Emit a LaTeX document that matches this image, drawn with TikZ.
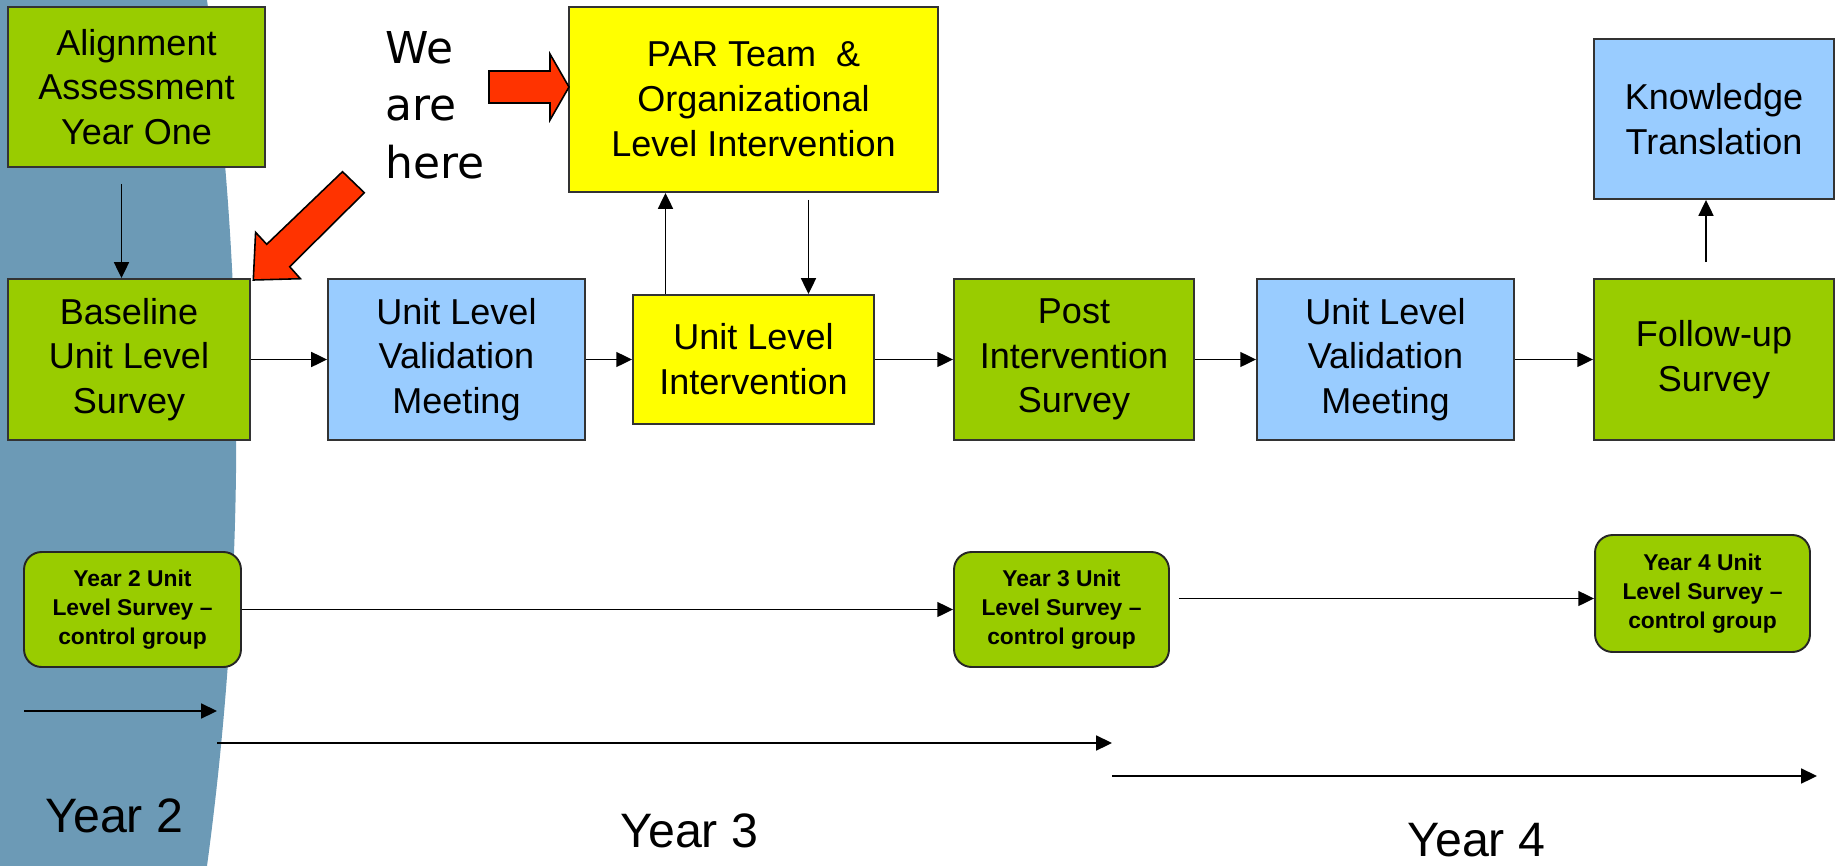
\documentclass[tikz,border=0pt]{standalone}
\usepackage{fontspec}
\setmainfont{Liberation Sans}
\newfontfamily\handfont{DejaVu Sans}
\usetikzlibrary{arrows.meta,calc}

\definecolor{leaf}{RGB}{153,204,0}
\definecolor{lemon}{RGB}{255,255,0}
\definecolor{sky}{RGB}{153,204,255}
\definecolor{flame}{RGB}{255,51,0}
\definecolor{slate}{RGB}{108,154,182}

\begin{document}
\begin{tikzpicture}[x=0.02cm,y=-0.02cm,
  box/.style={draw=black!80,line width=1.1pt,align=center,inner sep=0pt,
    font=\fontsize{20.5}{25.5}\selectfont},
  survey/.style={box,fill=leaf},
  meeting/.style={box,fill=sky},
  action/.style={box,fill=lemon},
  control/.style={draw=black!85,line width=1.1pt,fill=leaf,rounded corners=10pt,
    align=center,inner sep=0pt,font=\fontsize{13}{16.4}\selectfont\bfseries},
  arr/.style={-{Triangle[length=9pt,width=8.5pt]},line width=1pt},
  pointer/.style={fill=flame,draw=black,line width=0.9pt},
  yearlabel/.style={anchor=base west,inner sep=0pt,font=\fontsize{27.5}{33}\selectfont}]
\useasboundingbox (0,0) rectangle (1837,866);

% curved backdrop on the left
\fill[slate] (0,0) -- (207,0) .. controls (246,289) and (246,577) .. (207,866) -- (0,866) -- cycle;

% main row
\node[survey,minimum width=5.14cm,minimum height=3.2cm] (assess) at (136.5,87) {Alignment\\Assessment\\Year One};
\node[survey,minimum width=4.84cm,minimum height=3.22cm] (base) at (129,359.5) {Baseline\\Unit Level\\Survey};
\node[meeting,minimum width=5.14cm,minimum height=3.22cm] (valid1) at (456.5,359.5) {Unit Level\\Validation\\Meeting};
\node[action,minimum width=4.82cm,minimum height=2.58cm] (unit) at (753.5,359.5) {Unit Level\\Intervention};
\node[action,minimum width=7.38cm,minimum height=3.7cm] (par) at (753.5,99.5) {PAR Team~~\&\\Organizational\\Level Intervention};
\node[survey,minimum width=4.8cm,minimum height=3.22cm] (post) at (1074,359.5) {Post\\Intervention\\Survey};
\node[meeting,minimum width=5.14cm,minimum height=3.22cm] (valid2) at (1385.5,359.5) {Unit Level\\Validation\\Meeting};
\node[survey,minimum width=4.8cm,minimum height=3.22cm] (follow) at (1714,359.5) {Follow-up\\Survey};
\node[meeting,minimum width=4.8cm,minimum height=3.2cm] (know) at (1714,119) {Knowledge\\Translation};

\draw[arr] (base) -- (valid1);
\draw[arr] (valid1) -- (unit);
\draw[arr] (unit) -- (post);
\draw[arr] (post) -- (valid2);
\draw[arr] (valid2) -- (follow);

\coordinate (assessfoot) at ($(assess.south)+(-15,16)$);
\draw[arr] (assessfoot) -- (assessfoot |- base.north);
\coordinate (upfoot) at ($(unit.north)+(-88,0)$);
\draw[arr] (upfoot) -- (upfoot |- par.south);
\coordinate (downtop) at ($(par.south)+(55,7)$);
\draw[arr] (downtop) -- (downtop |- unit.north);
\coordinate (knowfoot) at ($(follow.north)+(-8,-16)$);
\draw[arr] (knowfoot) -- (knowfoot |- know.south);

% pointers
\node[anchor=base west,align=left,inner sep=0pt,font=\handfont\fontsize{25}{32.6}\selectfont] (here) at (385,178) {We\\are\\here};
\filldraw[pointer] (489,71) -- (550,71) -- (550,54) -- (569,87) -- (550,120) -- (550,103) -- (489,103) -- cycle;
\filldraw[pointer] (342.5,171.7) -- (364.3,192.7) -- (289.7,266.7) -- (300.4,278.7) -- (253.3,280) -- (255.6,232.3) -- (266.7,244.3) -- cycle;

% control group
\node[control,minimum width=4.34cm,minimum height=2.3cm] (ctrl2) at (132.5,609.5) {Year 2 Unit\\Level Survey –\\control group};
\node[control,minimum width=4.3cm,minimum height=2.3cm] (ctrl3) at (1061.5,609.5) {Year 3 Unit\\Level Survey –\\control group};
\node[control,minimum width=4.3cm,minimum height=2.34cm] (ctrl4) at (1702.5,593.5) {Year 4 Unit\\Level Survey –\\control group};

\draw[arr] (ctrl2) -- (ctrl3);
\coordinate (ctrlout) at ($(ctrl3.east |- ctrl4.west)+(9,5)$);
\draw[arr] (ctrlout) -- (ctrlout -| ctrl4.west);

% timeline
\coordinate (t0) at (24,711);
\coordinate (t1) at (217,711);
\coordinate (t2) at (217,743);
\coordinate (t3) at (1112,743);
\coordinate (t4) at (1112,776);
\coordinate (t5) at (1817,776);
\draw[arr] (t0) -- (t1);
\draw[arr] (t2) -- (t3);
\draw[arr] (t4) -- (t5);

\node[yearlabel] (yr2) at (45,832) {Year 2};
\node[yearlabel] (yr3) at (620,847) {Year 3};
\node[yearlabel] (yr4) at (1407,856) {Year 4};
\end{tikzpicture}
\end{document}
